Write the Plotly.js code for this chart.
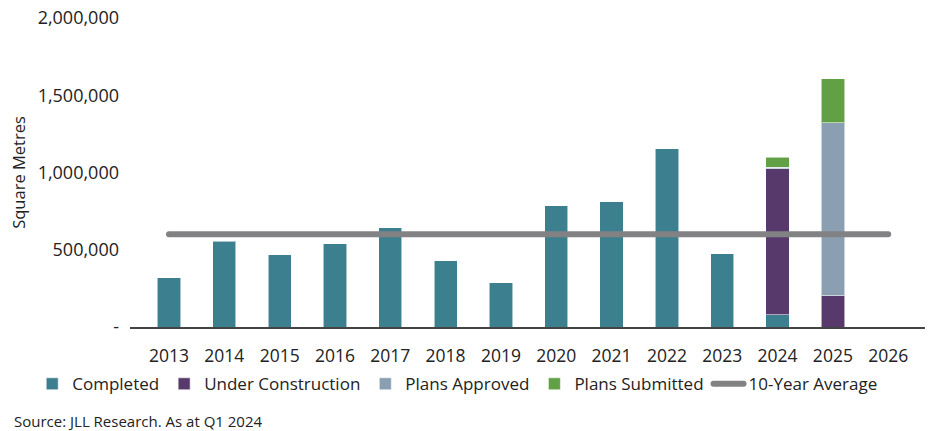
<!DOCTYPE html>
<html><head><meta charset="utf-8">
<script src="https://cdn.plot.ly/plotly-3.0.1.min.js"></script>
<style>html,body{margin:0;padding:0;background:#fff}#c{width:935px;height:431px}
.scatterlayer path.js-line, .legend path.js-line{stroke-linecap:round}</style>
</head><body><div id="c"></div>
<script>
const years = ['2013','2014','2015','2016','2017','2018','2019','2020','2021','2022','2023','2024','2025','2026'];
const completed = [320000, 555000, 467000, 538000, 642000, 428000, 285000, 785000, 810000, 1154000, 473000, 78000, null, null];
const underConstruction = [null, null, null, null, null, null, null, null, null, null, null, 947000, 201000, null];
const plansApproved = [null, null, null, null, null, null, null, null, null, null, null, 8000, 1122000, null];
const plansSubmitted = [null, null, null, null, null, null, null, null, null, null, null, 65000, 283000, null];
const tenYearAverage = [600000, 600000, 600000, 600000, 600000, 600000, 600000, 600000, 600000, 600000, 600000, 600000, 600000, 600000];
const yTickVals = [0, 500000, 1000000, 1500000, 2000000];
const yTickText = ['-', '500,000', '1,000,000', '1,500,000', '2,000,000'];

const font = "'Open Sans', Lato, sans-serif";
const edge = {width: 1, color: 'rgba(255,255,255,0.55)'};
const traces = [
  {type:'bar', name:'Completed', x:years, y:completed, marker:{color:'#3c808f', line:edge}, width:0.42},
  {type:'bar', name:'Under Construction', x:years, y:underConstruction, marker:{color:'#573a6b', line:edge}, width:0.42},
  {type:'bar', name:'Plans Approved', x:years, y:plansApproved, marker:{color:'#8a9fb1', line:edge}, width:0.42},
  {type:'bar', name:'Plans Submitted', x:years, y:plansSubmitted, marker:{color:'#62a046', line:edge}, width:0.42},
  {type:'scatter', mode:'lines', name:'10-Year Average', x:years, y:tenYearAverage, line:{color:'#828285', width:6}}
];
const layout = {
  width:935, height:431,
  margin:{l:130, r:10, t:18, b:104},
  paper_bgcolor:'#fff', plot_bgcolor:'#fff',
  barmode:'stack',
  font:{family:font, size:16, color:'#222'},
  showlegend:true,
  xaxis:{type:'category', range:[-0.705, 13.665], showgrid:false, zeroline:false,
    showline:true, linecolor:'#444', linewidth:1.5, ticks:'', ticklabelstandoff:12,
    tickfont:{size:17.5, color:'#222'}},
  yaxis:{range:[0, 2000000], showgrid:false, zeroline:false, showline:false,
    tickvals:yTickVals, ticktext:yTickText, ticks:'', ticklabelstandoff:10,
    tickfont:{size:18, color:'#222'},
    title:{text:'Square Metres', font:{size:16.5, color:'#222'}, standoff:7}},
  legend:{orientation:'h', xref:'paper', yref:'paper', x:-0.123, y:-0.127,
    xanchor:'left', yanchor:'top', font:{size:17, color:'#222'}, itemwidth:30,
    traceorder:'normal', tracegroupgap:0},
  annotations:[{text:'Source: JLL Research. As at Q1 2024', xref:'paper', yref:'paper',
    x:-0.1484, y:-0.304, xanchor:'left', yanchor:'middle', showarrow:false,
    font:{size:15, color:'#222'}}]
};
Plotly.newPlot('c', traces, layout, {displayModeBar:false, staticPlot:true});
</script></body></html>
